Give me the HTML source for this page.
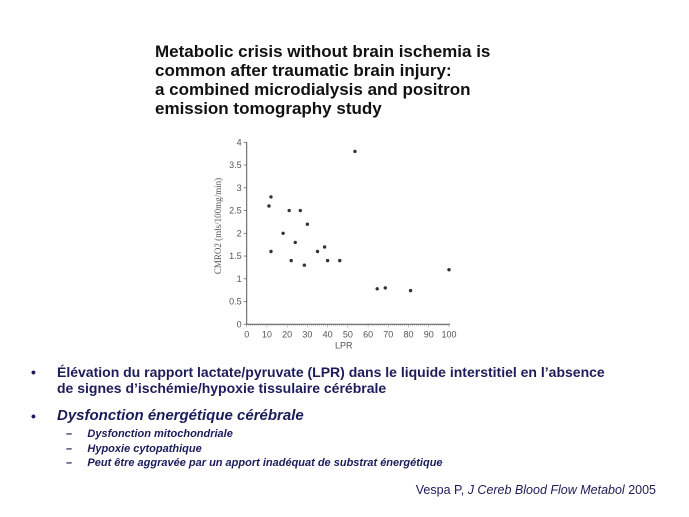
<!DOCTYPE html>
<html><head><meta charset="utf-8"><style>
body{margin:0;width:689px;height:517px;background:#fff;position:relative;overflow:hidden;font-family:"Liberation Sans",sans-serif}
.t{position:absolute;white-space:nowrap}
#title{left:155px;top:42px;font-size:17px;font-weight:bold;line-height:19px;color:#111}
.nv{color:#1c1c5a}
</style></head><body>
<div id="title" class="t">Metabolic crisis without brain ischemia is<br>common after traumatic brain injury:<br>a combined microdialysis and positron<br>emission tomography study</div>
<svg id="chart" style="position:absolute;left:0;top:0" width="689" height="360"></svg>
<div class="t nv" style="left:31px;top:364px;font-size:14px;font-weight:bold;line-height:16px">•</div>
<div class="t nv" style="left:57px;top:364px;font-size:14px;font-weight:bold;line-height:16px">Élévation du rapport lactate/pyruvate (LPR) dans le liquide interstitiel en l’absence<br>de signes d’ischémie/hypoxie tissulaire cérébrale</div>
<div class="t nv" style="left:31px;top:408px;font-size:14px;font-weight:bold">•</div>
<div class="t nv" style="left:57px;top:407px;font-size:15px;font-weight:bold;font-style:italic">Dysfonction énergétique cérébrale</div>
<div class="t nv" style="left:66px;top:428px;font-size:11px;font-style:italic;font-weight:bold">–&nbsp;&nbsp;&nbsp;&nbsp;&nbsp;Dysfonction mitochondriale</div>
<div class="t nv" style="left:66px;top:443px;font-size:11px;font-style:italic;font-weight:bold">–&nbsp;&nbsp;&nbsp;&nbsp;&nbsp;Hypoxie cytopathique</div>
<div class="t nv" style="left:66px;top:457px;font-size:11px;font-style:italic;font-weight:bold">–&nbsp;&nbsp;&nbsp;&nbsp;&nbsp;Peut être aggravée par un apport inadéquat de substrat énergétique</div>
<div class="t nv" style="right:33px;top:483px;font-size:12.5px">Vespa P, <i>J Cereb Blood Flow Metabol</i> 2005</div>
<script>
const lpr=[11,12,12,18,21,22,24,26.5,28.5,30,35,38.5,40,46,53.5,64.5,68.5,81,100];
const cmro2=[2.6,2.8,1.6,2.0,2.5,1.4,1.8,2.5,1.3,2.2,1.6,1.7,1.4,1.4,3.8,0.78,0.8,0.74,1.2];
const xTicks=[0,10,20,30,40,50,60,70,80,90,100];
const yTicks=[0,0.5,1,1.5,2,2.5,3,3.5,4];
const svg=document.getElementById('chart');const NS='http://www.w3.org/2000/svg';
const X0=246.7,X1=449,Y0=324.3,Y1=142.3;
const sx=v=>X0+(X1-X0)*v/100, sy=v=>Y0-(Y0-Y1)*v/4;
function mk(t,a,p){const e=document.createElementNS(NS,t);for(const k in a)e.setAttribute(k,a[k]);(p||svg).appendChild(e);return e;}
const ax=mk('line',{x1:X0,y1:Y0,x2:X1+1,y2:Y0,stroke:'#555','stroke-width':1});


const ay=mk('line',{x1:X0,y1:Y0,x2:X0,y2:Y1,stroke:'#555','stroke-width':1});


for(let i=0;i<=100;i++){mk('line',{x1:sx(i),y1:Y0,x2:sx(i),y2:Y0+(i%10?1.5:3),stroke:'#777','stroke-width':0.5});}
xTicks.forEach(v=>{const t=mk('text',{x:sx(v),y:Y0+13,'font-size':9,'text-anchor':'middle',fill:'#555'});t.textContent=v;

});
yTicks.forEach(v=>{mk('line',{x1:X0-3,y1:sy(v),x2:X0,y2:sy(v),stroke:'#555','stroke-width':0.7});
const t=mk('text',{x:X0-5,y:sy(v)+3,'font-size':9,'text-anchor':'end',fill:'#555'});t.textContent=v;

});
const xl=mk('text',{x:sx(48),y:Y0+24,'font-size':9,'text-anchor':'middle',fill:'#555'});xl.textContent='LPR';


const yl=mk('text',{x:0,y:0,'font-size':9,'text-anchor':'middle',fill:'#555',transform:'translate(221,226) rotate(-90)','font-family':'Liberation Serif'});yl.textContent='CMRO2 (mls/100mg/min)';


lpr.forEach((v,i)=>{const c=mk('circle',{cx:sx(v),cy:sy(cmro2[i]),r:1.7,fill:'#333'});

});
</script>
</body></html>
